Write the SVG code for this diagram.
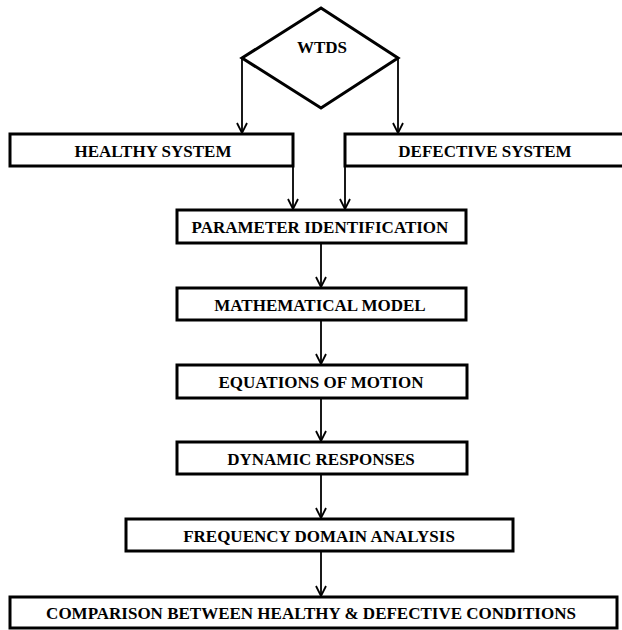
<svg xmlns="http://www.w3.org/2000/svg" width="622" height="630" viewBox="0 0 622 630">
<defs>
<marker id="ah" viewBox="0 0 12 12" refX="11" refY="6" markerWidth="12" markerHeight="12" markerUnits="userSpaceOnUse" orient="auto">
<path d="M1,1 L11,6 L1,11" fill="none" stroke="#000" stroke-width="1.8"/>
</marker>
<style>
.box{fill:#fff;stroke:#000;stroke-width:3}
.t{font-family:"Liberation Serif","Times New Roman",serif;font-weight:bold;font-size:17px;text-anchor:middle;dominant-baseline:central;fill:#000}
.c{fill:none;stroke:#000;stroke-width:1.8;marker-end:url(#ah)}
</style>
</defs>
<rect width="622" height="630" fill="#fff"/>
<g id="connectors">
<path class="c" d="M242,58 V133"/>
<path class="c" d="M398,58 V133"/>
<path class="c" d="M293,166 V209"/>
<path class="c" d="M345,166 V209"/>
<path class="c" d="M321,243 V287"/>
<path class="c" d="M321,320 V364"/>
<path class="c" d="M321,398 V441"/>
<path class="c" d="M321,474 V518"/>
<path class="c" d="M321,551 V596"/>
</g>
<g id="wtds">
<polygon class="box" points="321,8 398,58 321,108 242,58"/>
<text class="t" x="322" y="47">WTDS</text>
</g>
<g id="healthy">
<rect class="box" x="10" y="134" width="283" height="32"/>
<text class="t" x="153" y="151">HEALTHY SYSTEM</text>
</g>
<g id="defective">
<rect class="box" x="345" y="134" width="280" height="32"/>
<text class="t" x="485" y="151">DEFECTIVE SYSTEM</text>
</g>
<g id="param">
<rect class="box" x="177" y="210" width="289" height="33"/>
<text class="t" x="320" y="227">PARAMETER IDENTIFICATION</text>
</g>
<g id="math">
<rect class="box" x="177" y="288" width="289" height="32"/>
<text class="t" x="320" y="305">MATHEMATICAL MODEL</text>
</g>
<g id="eom">
<rect class="box" x="177" y="365" width="290" height="33"/>
<text class="t" x="321" y="382">EQUATIONS OF MOTION</text>
</g>
<g id="dyn">
<rect class="box" x="177" y="442" width="290" height="32"/>
<text class="t" x="321" y="459">DYNAMIC RESPONSES</text>
</g>
<g id="freq">
<rect class="box" x="126" y="519" width="387" height="32"/>
<text class="t" x="319" y="536">FREQUENCY DOMAIN ANALYSIS</text>
</g>
<g id="comp">
<rect class="box" x="10" y="597" width="607" height="31"/>
<text class="t" x="311" y="613">COMPARISON BETWEEN HEALTHY &amp; DEFECTIVE CONDITIONS</text>
</g>
</svg>
